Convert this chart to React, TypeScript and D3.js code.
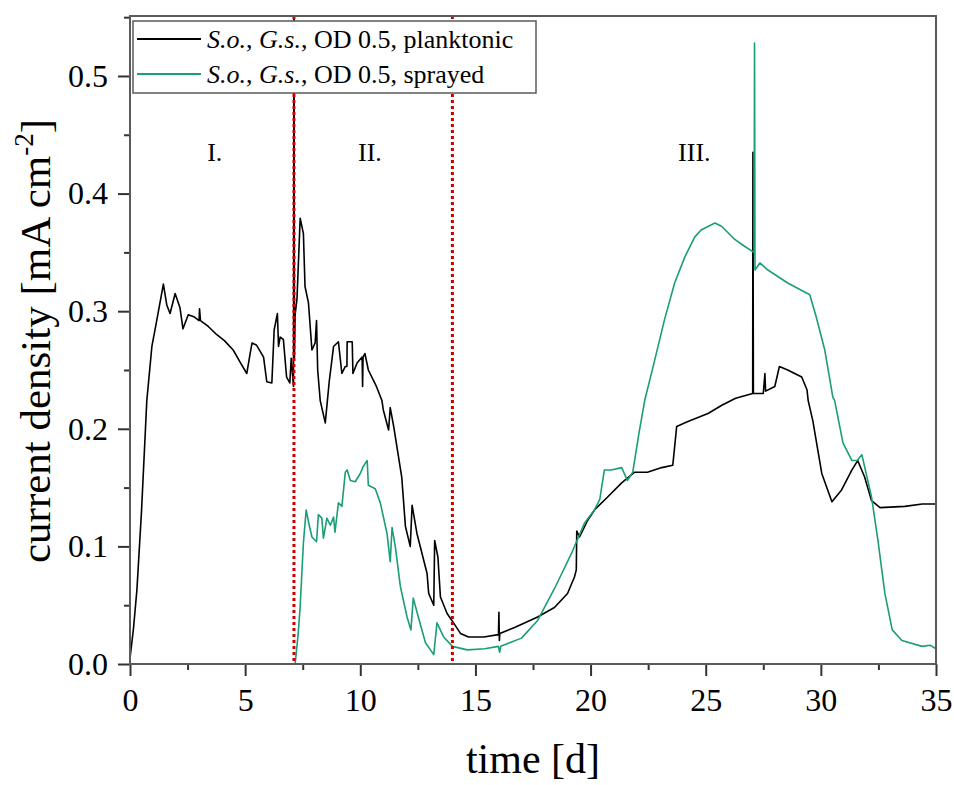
import { useEffect, useRef } from "react";
import * as d3 from "d3";

// time [d], current density [mA cm-2]
const planktonic: [number, number][] = [
  [0, 0.005], [0.15, 0.03], [0.3, 0.063], [0.5, 0.13], [0.73, 0.224], [0.95, 0.27], [1.16, 0.292],
  [1.45, 0.323], [1.6, 0.305], [1.74, 0.298], [1.96, 0.315], [2.17, 0.303], [2.3, 0.285], [2.53, 0.297],
  [2.8, 0.295], [3.0, 0.292], [3.02, 0.302], [3.06, 0.292], [3.4, 0.287], [3.77, 0.28], [4.1, 0.275],
  [4.48, 0.267], [4.8, 0.256], [5.07, 0.247], [5.2, 0.262], [5.3, 0.273], [5.5, 0.271], [5.8, 0.261],
  [5.94, 0.24], [6.16, 0.239], [6.26, 0.284], [6.4, 0.298], [6.45, 0.27], [6.52, 0.278], [6.66, 0.276],
  [6.8, 0.244], [6.94, 0.239], [7.0, 0.26], [7.1, 0.236], [7.12, 0.6], [7.14, 0.26], [7.17, 0.297],
  [7.25, 0.31], [7.39, 0.379], [7.53, 0.366], [7.6, 0.321], [7.75, 0.307], [7.9, 0.267], [8.04, 0.273],
  [8.1, 0.292], [8.15, 0.25], [8.26, 0.224], [8.48, 0.205], [8.65, 0.24], [8.84, 0.27], [9.05, 0.274],
  [9.2, 0.247], [9.35, 0.253], [9.42, 0.253], [9.43, 0.274], [9.65, 0.274], [9.68, 0.247], [9.86, 0.256],
  [10.08, 0.261], [10.1, 0.236], [10.12, 0.261], [10.2, 0.264], [10.35, 0.25], [10.7, 0.236],
  [10.94, 0.224], [11.0, 0.216], [11.23, 0.199], [11.3, 0.218], [11.45, 0.202], [11.8, 0.159],
  [11.96, 0.117], [12.17, 0.1], [12.25, 0.135], [12.46, 0.111], [12.9, 0.077], [12.97, 0.06],
  [13.19, 0.05], [13.23, 0.105], [13.37, 0.091], [13.48, 0.057], [13.77, 0.043], [14.05, 0.035],
  [14.35, 0.026], [14.7, 0.023], [15.36, 0.023], [16.0, 0.025], [16.02, 0.044], [16.04, 0.02],
  [16.06, 0.026], [16.7, 0.031], [17.7, 0.04], [18.43, 0.048], [19.0, 0.06], [19.3, 0.074],
  [19.38, 0.08], [19.4, 0.113], [19.52, 0.108], [19.87, 0.122], [20.17, 0.131], [20.74, 0.142],
  [21.35, 0.154], [21.9, 0.163], [22.47, 0.163], [23.09, 0.167], [23.57, 0.169], [23.74, 0.202],
  [24.2, 0.206], [25.1, 0.213], [25.7, 0.22], [26.3, 0.226], [27.04, 0.23], [27.05, 0.435],
  [27.07, 0.23], [27.5, 0.23], [27.57, 0.247], [27.6, 0.232], [28.0, 0.236], [28.2, 0.253],
  [28.56, 0.25], [29.17, 0.244], [29.4, 0.233], [29.45, 0.224], [29.65, 0.207], [30.04, 0.162],
  [30.48, 0.138], [30.9, 0.148], [31.35, 0.165], [31.6, 0.173], [31.9, 0.159], [32.2, 0.139],
  [32.57, 0.133], [33.65, 0.134], [34.4, 0.136], [35, 0.136],
];

const sprayed: [number, number][] = [
  [7.17, 0], [7.3, 0.025], [7.39, 0.049], [7.53, 0.103], [7.65, 0.131], [7.75, 0.121], [7.9, 0.108],
  [8.1, 0.104], [8.18, 0.127], [8.33, 0.124], [8.4, 0.107], [8.55, 0.124], [8.7, 0.118], [8.84, 0.125],
  [8.9, 0.112], [9.05, 0.137], [9.2, 0.134], [9.35, 0.163], [9.43, 0.165], [9.57, 0.156], [9.78, 0.155],
  [10.0, 0.162], [10.13, 0.168], [10.3, 0.173], [10.35, 0.152], [10.65, 0.149], [10.87, 0.137],
  [11.16, 0.111], [11.3, 0.087], [11.38, 0.116], [11.52, 0.1], [11.74, 0.066], [12.03, 0.04],
  [12.2, 0.029], [12.3, 0.056], [12.52, 0.04], [12.83, 0.018], [13.19, 0.008], [13.33, 0.035],
  [13.62, 0.023], [14.0, 0.015], [14.65, 0.012], [15.4, 0.013], [16.0, 0.015], [16.05, 0.01],
  [16.1, 0.015], [17.0, 0.022], [17.7, 0.037], [18.43, 0.064], [19.17, 0.094], [19.74, 0.12],
  [20.17, 0.131], [20.4, 0.14], [20.6, 0.165], [20.9, 0.165], [21.35, 0.167], [21.6, 0.156],
  [21.83, 0.163], [22.1, 0.196], [22.35, 0.224], [22.78, 0.258], [23.2, 0.292], [23.65, 0.324],
  [24.09, 0.346], [24.52, 0.363], [24.8, 0.369], [25.4, 0.375], [25.7, 0.372], [26.26, 0.361],
  [26.7, 0.355], [27.1, 0.35], [27.12, 0.528], [27.14, 0.335], [27.35, 0.341], [27.7, 0.335],
  [28.56, 0.324], [29.52, 0.314], [29.8, 0.295], [30.17, 0.267], [30.52, 0.227], [30.6, 0.224],
  [30.96, 0.188], [31.35, 0.173], [31.57, 0.173], [31.78, 0.178], [32.2, 0.142], [32.48, 0.105],
  [32.78, 0.06], [33.1, 0.029], [33.52, 0.02], [34.4, 0.015], [34.74, 0.016], [35, 0.013],
];

const phaseBorders = [7.12, 14.0];
const phaseLabels = ["I.", "II.", "III."];
const phaseLabelX = [3.35, 9.9, 23.8];
const xTicks = [0, 5, 10, 15, 20, 25, 30, 35];
const yTicks = [0, 0.1, 0.2, 0.3, 0.4, 0.5];

const series = [
  { name: "planktonic", data: planktonic, color: "#000000" },
  { name: "sprayed", data: sprayed, color: "#1a9e77" },
];

const font = '"Liberation Serif", "DejaVu Serif", serif';

const App = () => {
  const svgRef = useRef<SVGSVGElement | null>(null);

  useEffect(() => {
    document.body.style.margin = "0";
    const svg = d3.select(svgRef.current);
    svg.selectAll("*").remove();

    const width = 954;
    const height = 785;
    const margin = { top: 16, right: 18, bottom: 121, left: 130 };

    const x = d3.scaleLinear().domain([0, 35]).range([margin.left, width - margin.right]);
    const y = d3.scaleLinear().domain([0, 0.551]).range([height - margin.bottom, margin.top]);

    svg.attr("width", width).attr("height", height)
      .style("display", "block").style("background", "#fff")
      .style("font-family", font);

    svg.append("defs").append("clipPath").attr("id", "plot-clip")
      .append("rect")
      .attr("x", margin.left).attr("y", margin.top)
      .attr("width", width - margin.left - margin.right)
      .attr("height", height - margin.top - margin.bottom);

    // curves
    const line = d3.line<[number, number]>().x(d => x(d[0])).y(d => y(d[1]));
    const curves = svg.append("g").attr("clip-path", "url(#plot-clip)");
    series.forEach(s => {
      curves.append("path")
        .attr("d", line(s.data))
        .attr("fill", "none")
        .attr("stroke", s.color)
        .attr("stroke-width", 1.6)
        .attr("stroke-linejoin", "round");
    });

    // phase borders
    phaseBorders.forEach(t => {
      svg.append("line")
        .attr("x1", x(t)).attr("x2", x(t))
        .attr("y1", y(0.551)).attr("y2", y(0))
        .attr("stroke", "#cc0000")
        .attr("stroke-width", 3)
        .attr("stroke-dasharray", "3,3");
    });

    phaseLabels.forEach((label, i) => {
      svg.append("text")
        .attr("x", x(phaseLabelX[i]))
        .attr("y", y(0.428))
        .text(label)
        .style("font-family", font)
        .attr("font-size", "26px")
        .attr("fill", "#000");
    });

    // axes
    const xAxis = d3.axisBottom(x).tickValues(xTicks).tickSize(12).tickPadding(12)
      .tickFormat(d => d3.format("d")(d as number));
    const xMinor = d3.axisBottom(x).tickValues(d3.range(2.5, 35, 5)).tickSize(6).tickFormat(() => "");
    const yAxis = d3.axisLeft(y).tickValues(yTicks).tickSize(12).tickPadding(10)
      .tickFormat(d => d3.format(".1f")(d as number));
    const yMinor = d3.axisLeft(y).tickValues(d3.range(0.05, 0.551, 0.1)).tickSize(6).tickFormat(() => "");

    const gx = svg.append("g").attr("transform", `translate(0,${height - margin.bottom})`).call(xAxis);
    svg.append("g").attr("transform", `translate(0,${height - margin.bottom})`).call(xMinor);
    const gy = svg.append("g").attr("transform", `translate(${margin.left},0)`).call(yAxis);
    svg.append("g").attr("transform", `translate(${margin.left},0)`).call(yMinor);

    svg.selectAll(".domain").remove();
    svg.selectAll(".tick line").attr("stroke", "#333").attr("stroke-width", 2);
    [gx, gy].forEach(g => {
      g.attr("font-family", null);
      g.selectAll("text")
        .style("font-family", font).attr("font-size", "32px").attr("fill", "#000");
    });

    // frame
    svg.append("rect")
      .attr("x", margin.left).attr("y", margin.top)
      .attr("width", width - margin.left - margin.right)
      .attr("height", height - margin.top - margin.bottom)
      .attr("fill", "none")
      .attr("stroke", "#5a5a5a")
      .attr("stroke-width", 2);

    // axis titles
    svg.append("text")
      .attr("x", (margin.left + width - margin.right) / 2)
      .attr("y", 773)
      .attr("text-anchor", "middle")
      .style("font-family", font)
      .attr("font-size", "42px")
      .text("time [d]");

    const yt = svg.append("text")
      .attr("transform", `translate(50,${341}) rotate(-90)`)
      .attr("text-anchor", "middle")
      .style("font-family", font)
      .attr("font-size", "43px");
    yt.append("tspan").text("current density [mA cm");
    yt.append("tspan").attr("font-size", "27px").attr("dy", -17).text("-2");
    yt.append("tspan").attr("dy", 17).text("]");

    // legend
    const lg = svg.append("g");
    lg.append("rect")
      .attr("x", 133).attr("y", 21).attr("width", 403).attr("height", 72)
      .attr("fill", "#fff").attr("stroke", "#5a5a5a").attr("stroke-width", 1.5);
    series.forEach((s, i) => {
      const cy = 39 + i * 35;
      lg.append("line")
        .attr("x1", 137).attr("x2", 201).attr("y1", cy).attr("y2", cy)
        .attr("stroke", s.color).attr("stroke-width", 2);
      const t = lg.append("text")
        .attr("x", 207).attr("y", cy + 9)
        .style("font-family", font).attr("font-size", "26px").attr("fill", "#000");
      t.append("tspan").attr("font-style", "italic").text("S.o.");
      t.append("tspan").text(", ");
      t.append("tspan").attr("font-style", "italic").text("G.s.");
      t.append("tspan").text(`, OD 0.5, ${s.name}`);
    });
  }, []);

  return <svg ref={svgRef}></svg>;
};

export default App;
